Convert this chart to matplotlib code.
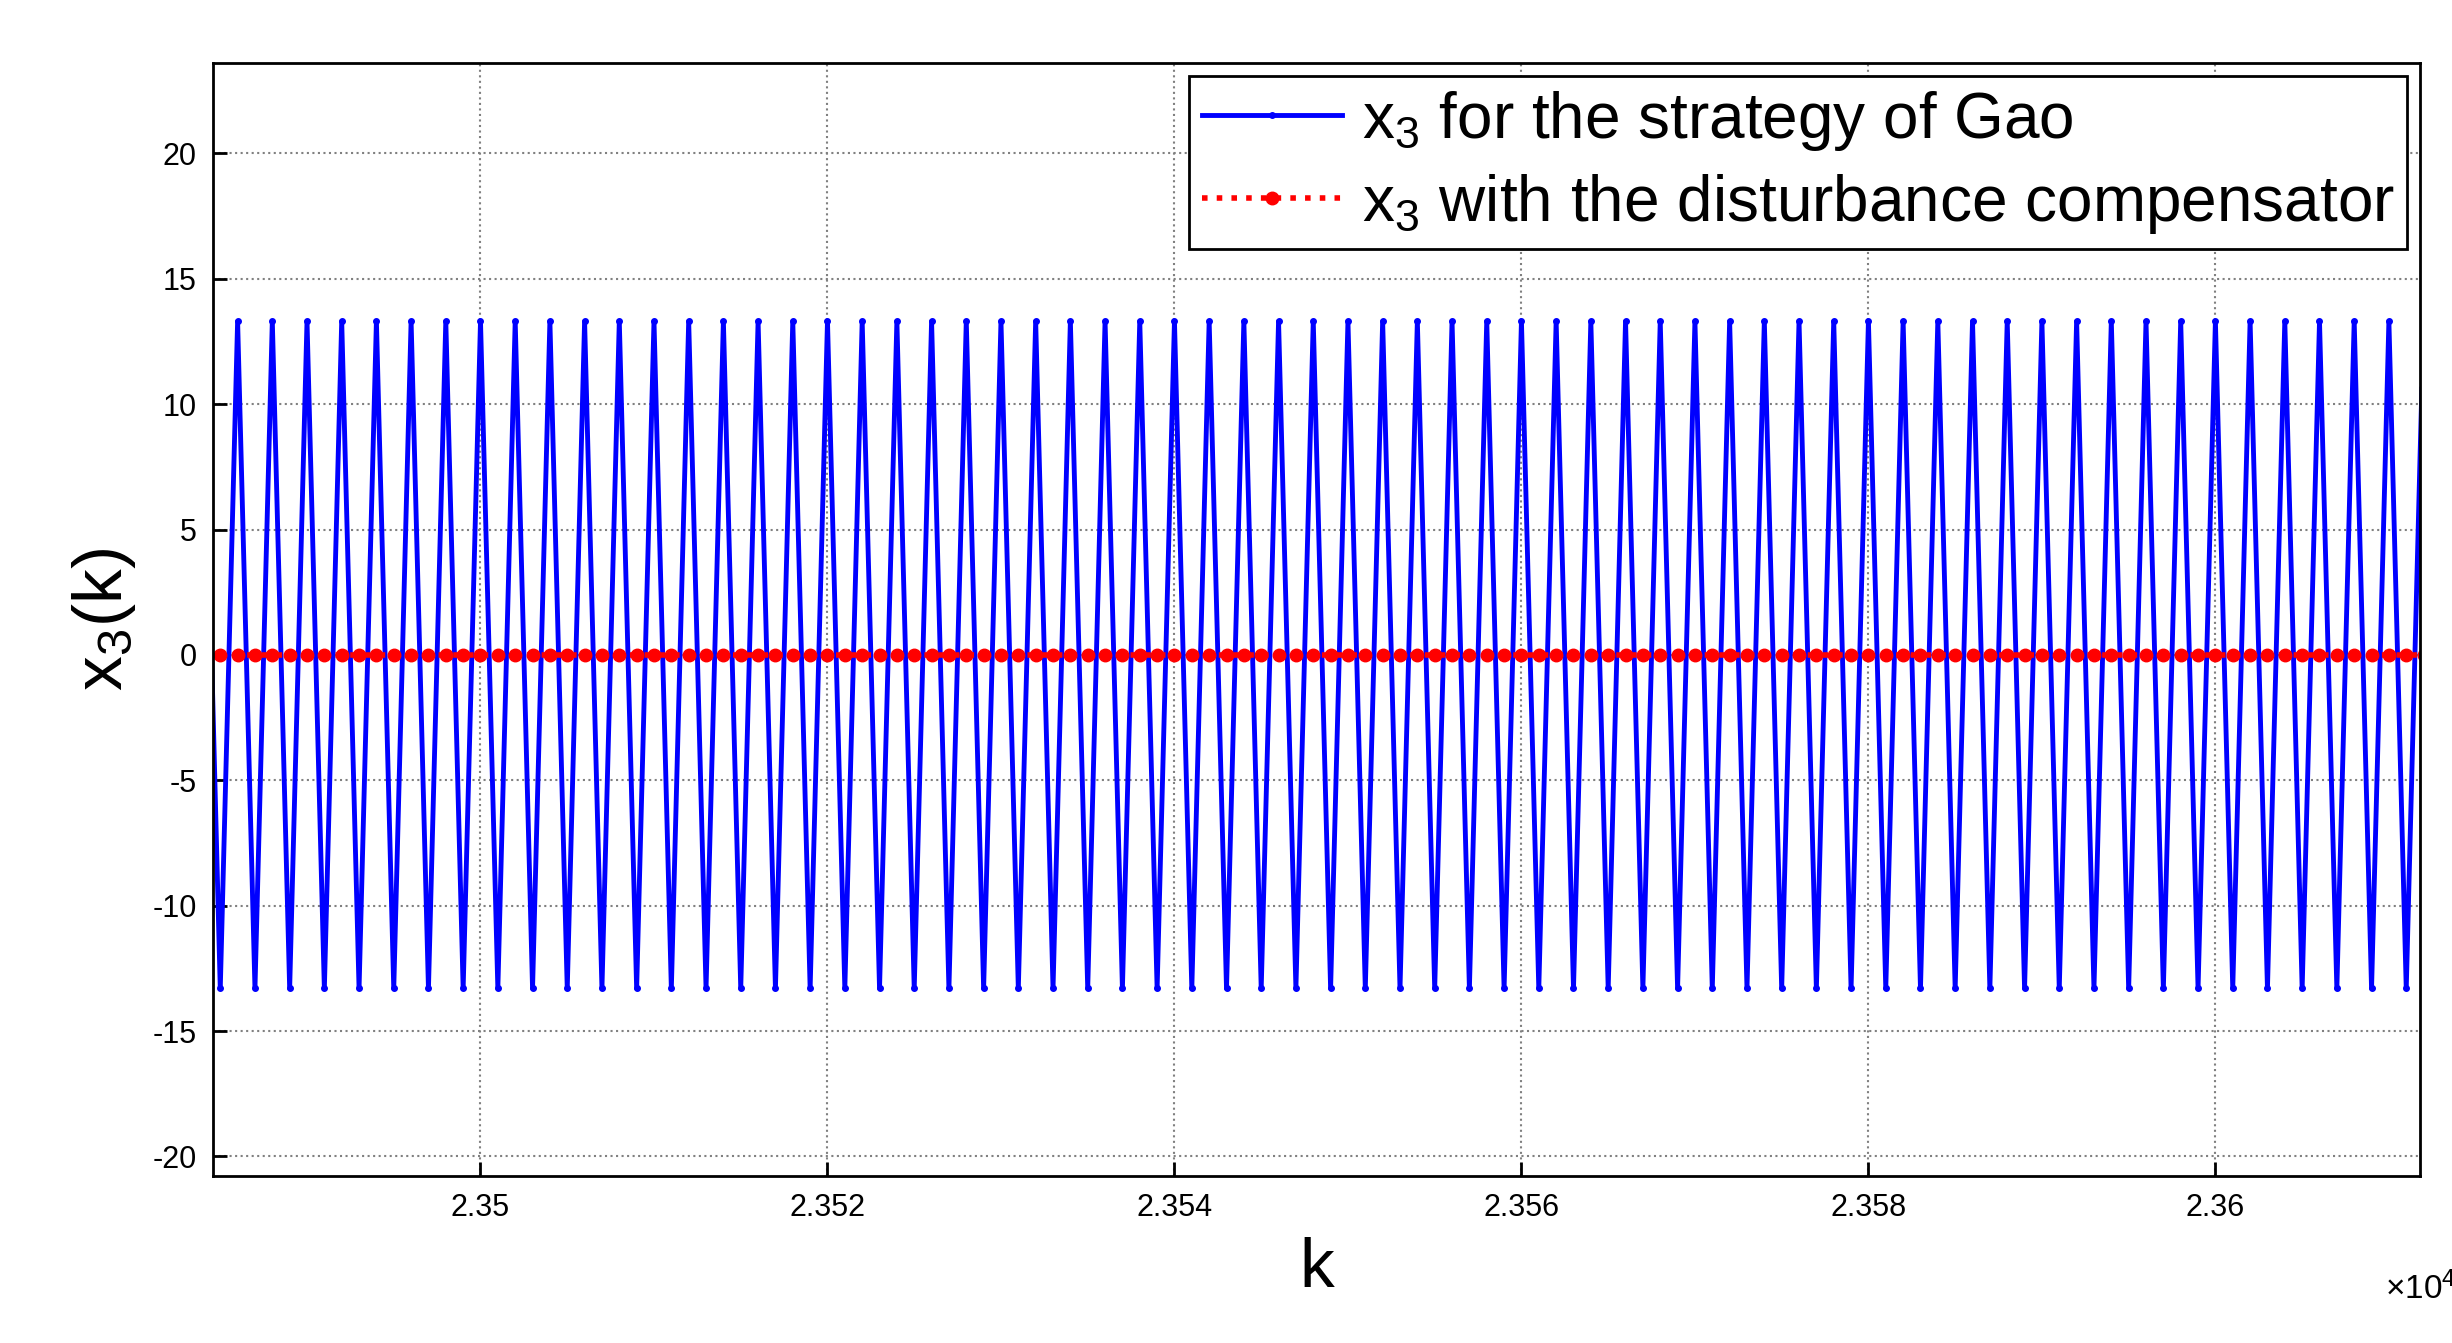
import numpy as np
import matplotlib.pyplot as plt

plt.rcParams['font.family'] = ['Liberation Sans', 'DejaVu Sans']
plt.rcParams['axes.unicode_minus'] = False
plt.rcParams['mathtext.fontset'] = 'custom'
plt.rcParams['mathtext.rm'] = 'Liberation Sans'
plt.rcParams['mathtext.it'] = 'Liberation Sans'

# data
k_start, k_end = 23484, 23612
# one period (2 samples of k) of the blue oscillation, sampled at 0.1
blue_period = [13.3, 10.6, 8.0, 5.3, 2.7, 0.0, -2.7, -5.3, -8.0, -10.6,
               -13.3, -10.6, -8.0, -5.3, -2.7, 0.0, 2.7, 5.3, 8.0, 10.6]
red_value = 0.0

n_per = (k_end - k_start) // 2
k_blue = k_start + np.arange(n_per * len(blue_period)) * 0.1
x3_gao = np.tile(blue_period, n_per)
k_red = np.arange(k_start, k_end + 1)
x3_comp = np.full(len(k_red), red_value)

fig = plt.figure(figsize=(24.52, 13.43), dpi=100)
ax = fig.add_axes([0.087, 0.124, 0.9, 0.829])
ax.plot(k_blue, x3_gao, color='blue', lw=3.5, marker='.', markersize=8,
        markevery=10, label=r'x$_3$ for the strategy of Gao')
ax.plot(k_red, x3_comp, color='red', lw=4, ls=':', marker='o', markersize=9,
        label=r'x$_3$ with the disturbance compensator')
ax.set_xlim(23484.6, 23611.8)
ax.set_ylim(-20.8, 23.6)
ax.set_yticks(np.arange(-20, 21, 5))
ax.set_xticks(np.arange(23500, 23611, 20))
ax.set_xticklabels(['2.35', '2.352', '2.354', '2.356', '2.358', '2.36'])
ax.tick_params(labelsize=22, width=2, length=10, direction='in', pad=12)
ax.text(1.0, -0.085, r'$\times 10^4$', transform=ax.transAxes, ha='center', va='top', fontsize=24)
ax.grid(True, ls=':', color='gray', lw=1.5)
for s in ax.spines.values():
    s.set_linewidth(2)
ax.set_xlabel('k', fontsize=50, labelpad=10)
ax.set_ylabel(r'x$_3$(k)', fontsize=50, labelpad=10)
leg = ax.legend(loc='upper right', fontsize=46, handlelength=2.2, handletextpad=0.3,
                fancybox=False, framealpha=1, edgecolor='black', borderaxespad=0.2,
                borderpad=0.2, labelspacing=0.3)
leg.get_frame().set_linewidth(2)
fig.savefig('out.png')
